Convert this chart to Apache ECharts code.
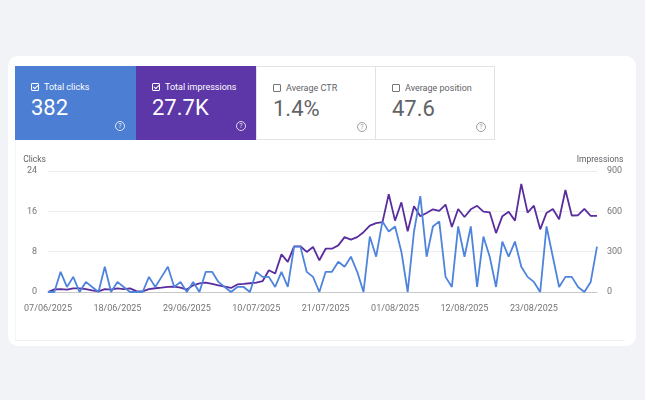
<!DOCTYPE html>
<html>
<head>
<meta charset="utf-8">
<script src="https://cdn.jsdelivr.net/npm/echarts@6/dist/echarts.min.js"></script>
<style>
  body { margin: 0; width: 645px; height: 400px; background: #f1f3f7; position: relative; overflow: hidden; font-family: Roboto, "Noto Sans", sans-serif; }
  .card { position: absolute; left: 8px; top: 56px; width: 628px; height: 290px; background: #fff; border-radius: 10px; }
  .panel { position: absolute; left: 15px; top: 66px; width: 610px; height: 275px; border-left: 1px solid #f3f4f6; border-bottom: 1px solid #f0f1f4; box-sizing: border-box; }
  .tile { position: absolute; top: 66px; height: 74px; box-sizing: border-box; }
  .tile.white { background: #fff; border: 1px solid #e3e3e3; }
  .cb { position: absolute; left: 16px; top: 17px; width: 8px; height: 8px; border: 1px solid #fff; border-radius: 1px; box-sizing: border-box; }
  .cb.on::after { content: ""; position: absolute; left: 2px; top: 0px; width: 2px; height: 4px; border: solid #fff; border-width: 0 1px 1px 0; transform: rotate(45deg); }
  .white .cb { border-color: #757575; }
  .lbl { position: absolute; left: 29px; top: 15px; font-size: 9px; line-height: 12px; color: #fff; white-space: nowrap; }
  .white .lbl { color: #5f6368; }
  .num { position: absolute; left: 16px; top: 29px; font-size: 22px; line-height: 26px; color: #fff; white-space: nowrap; }
  .white .num { color: #5f6368; }
  .q { position: absolute; left: 100px; top: 55px; width: 10px; height: 10px; border: 1px solid rgba(255,255,255,0.8); border-radius: 50%; box-sizing: border-box; font-size: 7px; line-height: 8px; text-align: center; color: rgba(255,255,255,0.9); }
  .white .q { border-color: #9e9e9e; color: #9e9e9e; }
  #chart { position: absolute; left: 0; top: 0; width: 645px; height: 400px; }
</style>
</head>
<body>
<div class="card"></div>
<div class="panel"></div>
<div class="tile" style="left:15px;width:121px;background:#4c7ed4;"><div class="cb on"></div><div class="lbl">Total clicks</div><div class="num">382</div><div class="q">?</div></div>
<div class="tile" style="left:136px;width:120px;background:#5d36a8;"><div class="cb on"></div><div class="lbl">Total impressions</div><div class="num">27.7K</div><div class="q">?</div></div>
<div class="tile white" style="left:256px;width:120px;"><div class="cb"></div><div class="lbl">Average CTR</div><div class="num">1.4%</div><div class="q">?</div></div>
<div class="tile white" style="left:375px;width:120px;"><div class="cb"></div><div class="lbl">Average position</div><div class="num">47.6</div><div class="q">?</div></div>
<div id="chart"></div>
<script>
// daily values from 07/06/2025 to 02/09/2025
var startDate = [2025, 6, 7];
var clicks = [
    0, 0, 4, 1, 3, 0, 2, 1, 0, 5,
    0, 2, 1, 0, 0, 0, 3, 1, 3, 5,
    1, 2, 0, 2, 0, 4, 4, 2, 1, 0,
    1, 1, 0, 4, 3, 3, 1, 4, 1, 9,
    9, 4, 3, 0, 4, 4, 6, 5, 7, 4,
    0, 11, 7, 14, 12, 13, 8, 0, 12, 19,
    7, 13, 14, 3, 1, 13, 7, 13, 1, 11,
    7, 1, 10, 7, 10, 5, 3, 2, 0, 13,
    7, 1, 3, 3, 1, 0, 2, 9
];
var impressions = [
    0, 20, 22, 17, 27, 27, 22, 12, 5, 22,
    17, 27, 22, 27, 7, 5, 22, 28, 32, 38,
    40, 32, 18, 50, 64, 70, 60, 50, 40, 30,
    56, 60, 65, 70, 80, 162, 138, 280, 224, 340,
    340, 298, 335, 236, 322, 322, 347, 408, 389, 408,
    445, 494, 512, 519, 728, 531, 667, 452, 638, 564,
    588, 615, 604, 650, 484, 617, 558, 615, 641, 598,
    593, 438, 564, 597, 531, 804, 591, 642, 466, 588,
    618, 541, 759, 569, 571, 618, 566, 566
];

var dates = [];
for (var i = 0; i < clicks.length; i++) {
    var d = new Date(startDate[0], startDate[1] - 1, startDate[2] + i);
    var dd = ('0' + d.getDate()).slice(-2), mm = ('0' + (d.getMonth() + 1)).slice(-2);
    dates.push(dd + '/' + mm + '/' + d.getFullYear());
}

var myChart = echarts.init(document.getElementById('chart'));
var labelStyle = { color: '#757575', fontSize: 9, fontFamily: 'Roboto' };
var option = {
    animation: false,
    grid: { left: 48, right: 48, top: 171, bottom: 108 },
    xAxis: {
        type: 'category',
        boundaryGap: false,
        data: dates,
        axisLine: { lineStyle: { color: '#c8c8c8' } },
        axisTick: { show: false },
        axisLabel: Object.assign({ interval: 10, margin: 12 }, labelStyle)
    },
    yAxis: [
        {
            type: 'value', min: 0, max: 24, interval: 8,
            name: 'Clicks', nameLocation: 'end', nameGap: 7,
            nameTextStyle: { align: 'right', color: '#5f6368', fontSize: 8.5, fontFamily: 'Roboto', padding: [0, 2, 0, 0] },
            axisLabel: Object.assign({ margin: 11 }, labelStyle),
            splitLine: { lineStyle: { color: '#ececec' } }
        },
        {
            type: 'value', min: 0, max: 900, interval: 300, position: 'right',
            name: 'Impressions', nameLocation: 'end', nameGap: 7,
            nameTextStyle: { color: '#5f6368', fontSize: 8.5, fontFamily: 'Roboto', padding: [0, 0, 0, 6] },
            axisLabel: Object.assign({ margin: 10 }, labelStyle),
            splitLine: { show: false }
        }
    ],
    series: [
        {
            name: 'Impressions', type: 'line', yAxisIndex: 1,
            data: impressions, showSymbol: false,
            lineStyle: { color: '#5a2d9f', width: 1.8 }
        },
        {
            name: 'Clicks', type: 'line', yAxisIndex: 0,
            data: clicks, showSymbol: false,
            lineStyle: { color: '#4e84db', width: 1.8 }
        }
    ]
};
myChart.setOption(option);
</script>
</body>
</html>
